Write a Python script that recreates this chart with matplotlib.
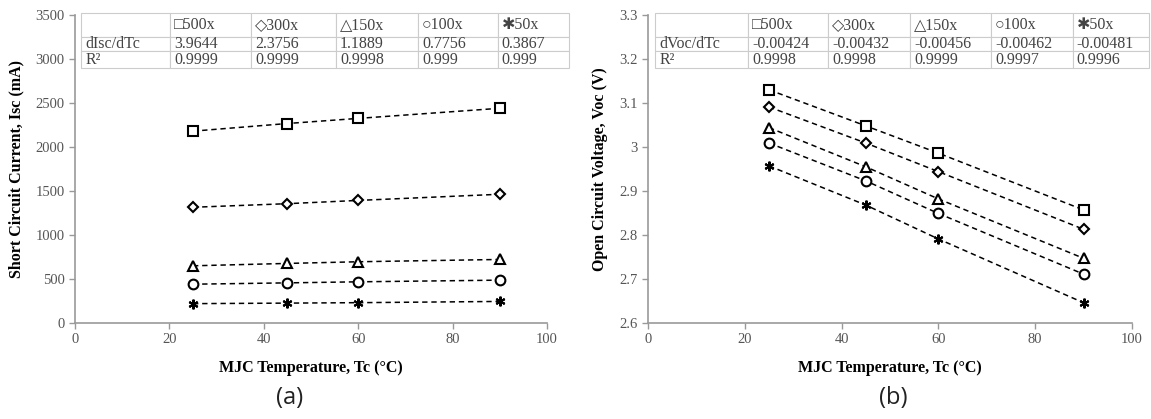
import matplotlib
matplotlib.use("Agg")
import matplotlib.pyplot as plt
from matplotlib.ticker import FuncFormatter

plt.rcParams['font.family'] = ['Liberation Serif', 'DejaVu Sans']
plt.rcParams['mathtext.fontset'] = 'custom'

# data
temps = [25, 45, 60, 90]
series = ["500x", "300x", "150x", "100x", "50x"]
symbols = ["\u25a1", "\u25c7", "\u25b3", "\u25cb", "\u2731"]
markers = ["s", "D", "^", "o", (6, 2, 0)]

isc = {
    "500x": [2180, 2267, 2325, 2440],
    "300x": [1315, 1356, 1393, 1463],
    "150x": [650, 677, 696, 722],
    "100x": [441, 456, 468, 487],
    "50x": [220, 226, 231, 245],
}
voc = {
    "500x": [3.130, 3.048, 2.986, 2.857],
    "300x": [3.091, 3.009, 2.944, 2.813],
    "150x": [3.044, 2.955, 2.882, 2.747],
    "100x": [3.009, 2.923, 2.849, 2.711],
    "50x": [2.957, 2.868, 2.791, 2.646],
}

isc_slope = ["3.9644", "2.3756", "1.1889", "0.7756", "0.3867"]
isc_r2 = ["0.9999", "0.9999", "0.9998", "0.999", "0.999"]
voc_slope = ["-0.00424", "-0.00432", "-0.00456", "-0.00462", "-0.00481"]
voc_r2 = ["0.9998", "0.9998", "0.9999", "0.9997", "0.9996"]

W, H = 1151, 419
fig = plt.figure(figsize=(W / 100, H / 100), dpi=100)

def px_axes(x0, x1, y0, y1):
    return fig.add_axes([x0 / W, 1 - y1 / H, (x1 - x0) / W, (y1 - y0) / H])

ax1 = px_axes(75, 547, 15, 323)
ax2 = px_axes(648, 1132, 15, 323)

tick_col = "#555555"
spine_col = "#999999"

def style(ax):
    for s in ["top", "right"]:
        ax.spines[s].set_visible(False)
    for s in ["left", "bottom"]:
        ax.spines[s].set_color(spine_col)
        ax.spines[s].set_linewidth(1.2)
    ax.tick_params(colors=spine_col, labelcolor=tick_col, labelsize=10.5,
                   length=4, width=1, labelfontfamily="Liberation Serif")
    ax.set_xlim(0, 100)
    ax.set_xticks(range(0, 101, 20))

def add_table(ax, first, slopes, r2s, x0, x1, colw):
    rows = [[""] + [sym + s for sym, s in zip(symbols, series)],
            [first] + slopes,
            ["R\u00b2"] + r2s]
    w_ax = ax.get_position().width * W
    h_ax = ax.get_position().height * H
    left = (x0 - ax.get_position().x0 * W) / w_ax
    width = (x1 - x0) / w_ax
    top = (323 - 13) / h_ax
    bottom = (323 - 68) / h_ax
    tb = ax.table(cellText=rows, cellLoc="left",
                  bbox=[left, bottom, width, top - bottom])
    tb.auto_set_font_size(False)
    tb.set_fontsize(11.5)
    heights = [24, 14, 17]
    for (r, c), cell in tb.get_celld().items():
        cell.set_edgecolor("#cccccc")
        cell.set_linewidth(0.8)
        cell.set_height(heights[r])
        cell.set_width(colw[c])
        cell.get_text().set_color("#444444")
        cell.PAD = 0.05
    tb.set_clip_on(False)
    return tb

# (a) short circuit current
style(ax1)
ax1.set_ylim(0, 3500)
ax1.set_yticks(range(0, 3501, 500))
for s, m in zip(series, markers):
    ax1.plot(temps, isc[s], linestyle="--", color="black", lw=1.1,
             marker=m, markersize=7 if m != "D" else 5.5, markerfacecolor="white",
             markeredgecolor="black", markeredgewidth=1.5, dashes=(3.5, 2.5))
ax1.set_xlabel("MJC Temperature, Tc (\u00b0C)", fontsize=11.5, fontweight="bold", labelpad=10)
ax1.set_ylabel("Short Circuit Current, Isc (mA)", fontsize=11.5, fontweight="bold", labelpad=8)
add_table(ax1, "dIsc/dTc", isc_slope, isc_r2, 81, 569, [89, 81, 85, 82, 80, 71])

# (b) open circuit voltage
style(ax2)
ax2.set_ylim(2.6, 3.3)
ax2.set_yticks([2.6, 2.7, 2.8, 2.9, 3.0, 3.1, 3.2, 3.3])
ax2.yaxis.set_major_formatter(FuncFormatter(lambda v, p: "%g" % round(v, 2)))
for s, m in zip(series, markers):
    ax2.plot(temps, voc[s], linestyle="--", color="black", lw=1.1,
             marker=m, markersize=7 if m != "D" else 5.5, markerfacecolor="white",
             markeredgecolor="black", markeredgewidth=1.5, dashes=(3.5, 2.5))
ax2.set_xlabel("MJC Temperature, Tc (\u00b0C)", fontsize=11.5, fontweight="bold", labelpad=10)
ax2.set_ylabel("Open Circuit Voltage, Voc (V)", fontsize=11.5, fontweight="bold", labelpad=8)
add_table(ax2, "dVoc/dTc", voc_slope, voc_r2, 655, 1149, [93, 80, 82, 81, 82, 76])

fig.text(290 / W, 1 - 398 / H, "(a)", ha="center", va="center", fontsize=17,
         family="Open Sans", color="#222222")
fig.text(893 / W, 1 - 398 / H, "(b)", ha="center", va="center", fontsize=17,
         family="Open Sans", color="#222222")

fig.savefig("out.png", dpi=100)
